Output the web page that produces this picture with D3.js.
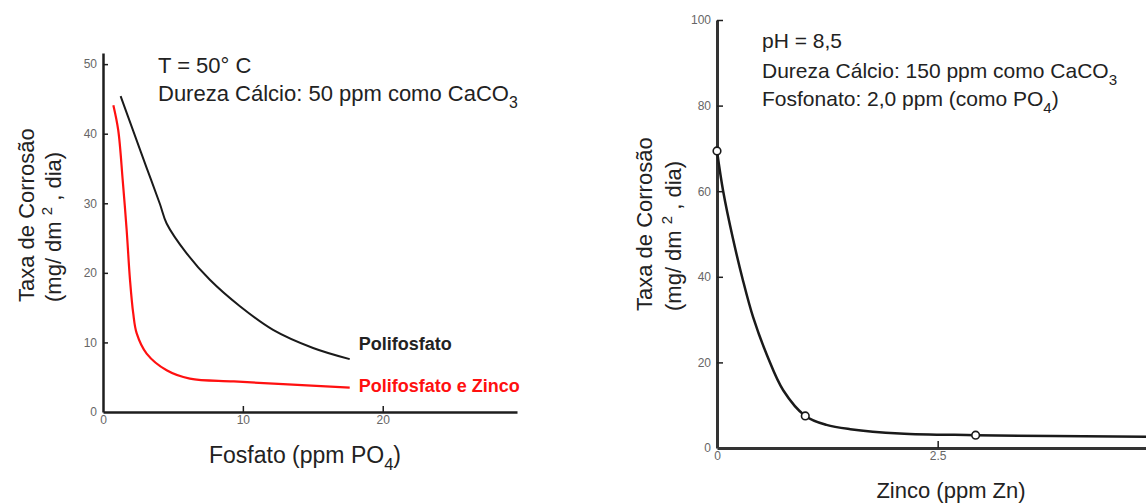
<!DOCTYPE html>
<html>
  <head>
    <meta charset="utf-8">
    <title>Taxa de Corrosão</title>
    <script src="https://d3js.org/d3.v7.min.js"></script>
    <style>
      body { margin: 0; background: #fff; }
      svg { font-family: "Liberation Sans", Arial, sans-serif; }
    </style>
  </head>
  <body>
    <div id="chart"></div>
    <script>
      // --- dados ---
      // gráfico esquerdo: fosfato (ppm PO4) x taxa de corrosão
      const polifosfatoX = [1.26, 2.16, 3.12, 4.07, 4.55, 5.98, 7.64, 9.79, 12.16, 15.02, 17.64];
      const polifosfatoY = [45.4, 40.4, 35.1, 29.9, 27.1, 22.8, 19.0, 15.2, 11.8, 9.2, 7.6];
      const polifosfatoZincoX = [0.74, 1.09, 1.41, 1.69, 1.93, 2.16, 2.41, 3.12, 4.55, 6.21, 9.31, 12.88, 17.64];
      const polifosfatoZincoY = [44.1, 40.5, 33.3, 26.2, 19.0, 14.2, 11.3, 8.4, 6.0, 4.8, 4.4, 4.0, 3.5];
      const leftXTicks = [0, 10, 20];
      const leftYTicks = [0, 10, 20, 30, 40, 50];

      // gráfico direito: zinco (ppm Zn) x taxa de corrosão
      const zincoCurveX = [0, 0.07, 0.18, 0.29, 0.41, 0.57, 0.75, 1.0, 1.24, 1.51, 2.07, 2.93, 4.86];
      const zincoCurveY = [69.4, 60.0, 49.0, 39.5, 30.5, 21.5, 13.5, 7.5, 5.4, 4.4, 3.4, 3.0, 2.6];
      const zincoPointsX = [0, 1.0, 2.93];
      const zincoPointsY = [69.4, 7.5, 3.0];
      const rightXTicks = [0, 2.5];
      const rightYTicks = [0, 20, 40, 60, 80, 100];

      const width = 1146, height = 503;
      const svg = d3.select("#chart")
                    .append("svg")
                    .attr("width", width)
                    .attr("height", height);

      const tickColor = "#666";
      const axisColor = "#1e1e1e";

      function styleAxis(g) {
        g.select(".domain").attr("stroke", axisColor).attr("stroke-width", 2.5);
        g.selectAll(".tick line").attr("stroke", axisColor).attr("stroke-width", 1.5);
        g.selectAll(".tick text")
         .attr("fill", tickColor)
         .attr("font-size", 12)
         .attr("font-family", "\"Liberation Sans\", Arial, sans-serif");
      }

      // rótulo do eixo Y (duas linhas, rotacionado)
      function yLabel(x1, x2, y) {
        svg.append("text")
           .attr("transform", `translate(${x1}, ${y}) rotate(-90)`)
           .attr("font-size", 22)
           .attr("fill", "#222")
           .text("Taxa de Corrosão");
        const t = svg.append("text")
           .attr("transform", `translate(${x2}, ${y}) rotate(-90)`)
           .attr("font-size", 22)
           .attr("fill", "#222");
        t.append("tspan").text("(mg/ dm ");
        t.append("tspan").attr("dy", -9).attr("font-size", 15).text("2");
        t.append("tspan").attr("dy", 9).text(" , dia)");
      }

      // texto com subscrito
      function subText(x, y, size, parts, anchor) {
        const t = svg.append("text")
                     .attr("x", x)
                     .attr("y", y)
                     .attr("text-anchor", anchor || "start")
                     .attr("font-size", size)
                     .attr("fill", "#222");
        let shift = 0;
        parts.forEach(p => {
          const dy = (p.sub ? 7 : 0) - shift;
          shift = p.sub ? 7 : 0;
          t.append("tspan")
           .attr("dy", dy)
           .attr("font-size", p.sub ? size * 0.72 : size)
           .text(p.t);
        });
      }

      const fmt = d3.format("~g");

      // ================= gráfico esquerdo =================
      const xL = d3.scaleLinear().domain([0, 29.6]).range([103, 517]);
      const yL = d3.scaleLinear().domain([0, 51.6]).range([412, 53]);

      const xAxisL = svg.append("g")
                        .attr("transform", `translate(0, ${yL(0)})`)
                        .call(d3.axisBottom(xL).tickValues(leftXTicks).tickFormat(fmt).tickSize(-6).tickSizeOuter(0).tickPadding(3));
      styleAxis(xAxisL);
      xAxisL.selectAll(".tick").filter(d => d === 0).select("line").remove();

      const yAxisL = svg.append("g")
                        .attr("transform", `translate(${xL(0)}, 0)`)
                        .call(d3.axisLeft(yL).tickValues(leftYTicks).tickFormat(fmt).tickSize(-5).tickSizeOuter(0).tickPadding(6));
      styleAxis(yAxisL);
      yAxisL.selectAll(".tick").filter(d => d === 0).select("line").remove();

      const lineL = d3.line()
                      .x(d => xL(d[0]))
                      .y(d => yL(d[1]))
                      .curve(d3.curveCatmullRom.alpha(0.5));

      svg.append("path")
         .datum(d3.zip(polifosfatoX, polifosfatoY))
         .attr("d", lineL)
         .attr("fill", "none")
         .attr("stroke", "#1a1a1a")
         .attr("stroke-width", 2);

      svg.append("path")
         .datum(d3.zip(polifosfatoZincoX, polifosfatoZincoY))
         .attr("d", lineL)
         .attr("fill", "none")
         .attr("stroke", "#ff1010")
         .attr("stroke-width", 2.2);

      // rótulos das séries
      svg.append("text")
         .attr("x", xL(d3.max(polifosfatoX)) + 9)
         .attr("y", 350)
         .attr("font-size", 18)
         .attr("font-weight", "bold")
         .attr("fill", "#222")
         .text("Polifosfato");
      svg.append("text")
         .attr("x", xL(d3.max(polifosfatoZincoX)) + 9)
         .attr("y", 392)
         .attr("font-size", 18)
         .attr("font-weight", "bold")
         .attr("fill", "#ff1010")
         .text("Polifosfato e Zinco");

      subText(158, 73, 22, [{t: "T = 50° C"}]);
      subText(158, 101, 22, [{t: "Dureza Cálcio: 50 ppm como CaCO"}, {t: "3", sub: true}]);

      subText(305, 463, 23, [{t: "Fosfato (ppm PO"}, {t: "4", sub: true}, {t: ")"}], "middle");
      yLabel(34, 61, 302);

      // ================= gráfico direito =================
      const xR = d3.scaleLinear().domain([0, 4.86]).range([717, 1146]);
      const yR = d3.scaleLinear().domain([0, 100]).range([448, 20]);

      const xAxisR = svg.append("g")
                        .attr("transform", `translate(0, ${yR(0)})`)
                        .call(d3.axisBottom(xR).tickValues(rightXTicks).tickFormat(fmt).tickSize(-7).tickSizeOuter(0).tickPadding(3));
      styleAxis(xAxisR);
      xAxisR.selectAll(".tick").filter(d => d === 0).select("line").remove();

      const yAxisR = svg.append("g")
                        .attr("transform", `translate(${xR(0)}, 0)`)
                        .call(d3.axisLeft(yR).tickValues(rightYTicks).tickFormat(fmt).tickSize(-6).tickSizeOuter(0).tickPadding(6));
      styleAxis(yAxisR);
      yAxisR.selectAll(".tick").filter(d => d === 0).select("line").remove();
      yAxisR.select(".domain").attr("stroke", "#333").attr("stroke-width", 3);
      xAxisR.select(".domain").attr("stroke", "#333").attr("stroke-width", 3);

      const lineR = d3.line()
                      .x(d => xR(d[0]))
                      .y(d => yR(d[1]))
                      .curve(d3.curveCatmullRom.alpha(0.5));

      svg.append("path")
         .datum(d3.zip(zincoCurveX, zincoCurveY))
         .attr("d", lineR)
         .attr("fill", "none")
         .attr("stroke", "#1a1a1a")
         .attr("stroke-width", 2.5);

      svg.selectAll("circle.ponto")
         .data(d3.zip(zincoPointsX, zincoPointsY))
         .join("circle")
         .attr("class", "ponto")
         .attr("cx", d => xR(d[0]))
         .attr("cy", d => yR(d[1]))
         .attr("r", 3.8)
         .attr("fill", "#fff")
         .attr("stroke", "#1a1a1a")
         .attr("stroke-width", 1.6);

      subText(762, 48, 21, [{t: "pH = 8,5"}]);
      subText(762, 78, 21, [{t: "Dureza Cálcio: 150 ppm como CaCO"}, {t: "3", sub: true}]);
      subText(762, 106, 21, [{t: "Fosfonato: 2,0 ppm (como PO"}, {t: "4", sub: true}, {t: ")"}]);

      svg.append("text")
         .attr("x", 951)
         .attr("y", 498)
         .attr("text-anchor", "middle")
         .attr("font-size", 22)
         .attr("fill", "#222")
         .text("Zinco (ppm Zn)");
      yLabel(652, 681, 311);
    </script>
  </body>
</html>
